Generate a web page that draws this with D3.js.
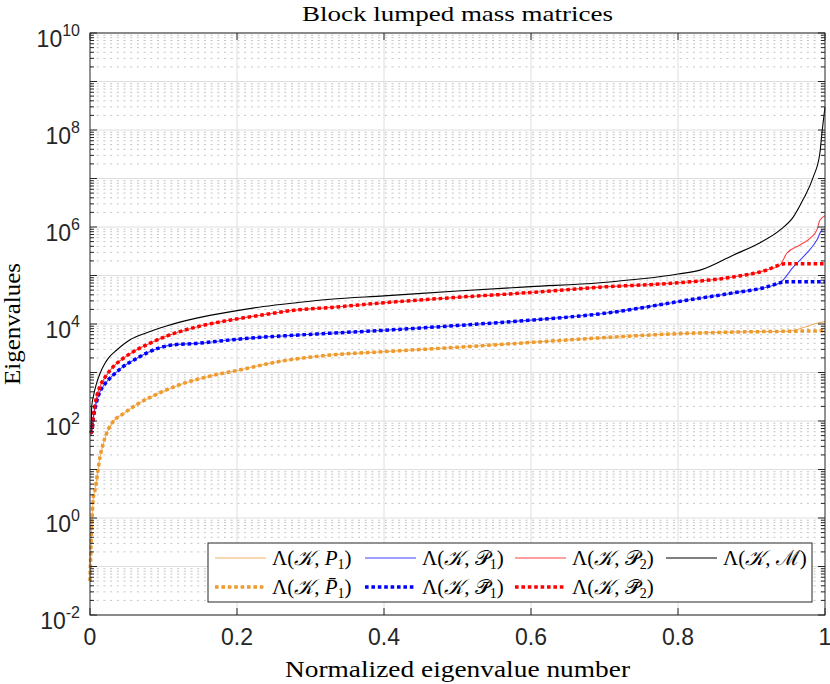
<!DOCTYPE html>
<html>
<head>
<meta charset="UTF-8">
<title>Block lumped mass matrices</title>
<script src="https://d3js.org/d3.v7.min.js"></script>
<style>
  body { margin: 0; background: #fff; }
  .tick-label { font-family: 'Liberation Sans', Arial, sans-serif; fill: #262626; }
  .serif { font-family: 'Liberation Serif', 'DejaVu Serif', serif; fill: #000; }
</style>
</head>
<body>
<svg id="chart" width="830" height="684"></svg>
<script>
// normalized eigenvalue number (x) and eigenvalues (y)
const tP1 = [0, 0.002, 0.0045, 0.0068, 0.0136, 0.0227, 0.0317, 0.045, 0.064, 0.086, 0.122, 0.167, 0.2, 0.259, 0.327, 0.4, 0.5, 0.6, 0.7, 0.8, 0.9, 0.95, 0.96, 0.975, 0.99, 1.0];
const vP1 = [0.05, 0.5, 2.6, 3.8, 18, 56, 98, 140, 220, 330, 560, 870, 1100, 1700, 2290, 2690, 3310, 4170, 5250, 6310, 6920, 7080, 7590, 8910, 10500, 11200];
const tP1bar = [0, 0.002, 0.0045, 0.0068, 0.0136, 0.0227, 0.0317, 0.045, 0.064, 0.086, 0.122, 0.167, 0.2, 0.259, 0.327, 0.4, 0.5, 0.6, 0.7, 0.8, 0.9, 0.95, 1.0];
const vP1bar = [0.05, 0.5, 2.6, 3.8, 18, 56, 98, 140, 220, 330, 560, 870, 1100, 1700, 2290, 2690, 3310, 4170, 5250, 6310, 6920, 7080, 7240];

const tC1 = [0, 0.0023, 0.0045, 0.009, 0.0136, 0.0227, 0.0317, 0.045, 0.0635, 0.077, 0.095, 0.113, 0.145, 0.19, 0.236, 0.281, 0.327, 0.4, 0.5, 0.6, 0.7, 0.812, 0.875, 0.92, 0.939, 0.957, 0.975, 0.989, 0.996, 1.0];
const vC1 = [56, 60, 115, 250, 400, 645, 890, 1320, 1950, 2510, 3240, 3720, 3980, 4680, 5370, 5890, 6460, 7410, 9330, 12000, 16600, 30900, 43700, 57500, 70800, 151000, 288000, 537000, 871000, 891000];
const tC1bar = [0, 0.0023, 0.0045, 0.009, 0.0136, 0.0227, 0.0317, 0.045, 0.0635, 0.077, 0.095, 0.113, 0.145, 0.19, 0.236, 0.281, 0.327, 0.4, 0.5, 0.6, 0.7, 0.812, 0.875, 0.92, 0.939, 0.945, 1.0];
const vC1bar = [56, 60, 115, 250, 400, 645, 890, 1320, 1950, 2510, 3240, 3720, 3980, 4680, 5370, 5890, 6460, 7410, 9330, 12000, 16600, 30900, 43700, 57500, 70800, 74100, 74100];

const tC2 = [0, 0.0023, 0.0045, 0.009, 0.0136, 0.0227, 0.0317, 0.045, 0.059, 0.077, 0.104, 0.145, 0.19, 0.236, 0.281, 0.327, 0.4, 0.5, 0.6, 0.694, 0.8, 0.875, 0.92, 0.939, 0.948, 0.966, 0.98, 0.989, 0.993, 1.0];
const vC2 = [56, 60, 123, 316, 513, 891, 1320, 1950, 2690, 3720, 5620, 8710, 12000, 15500, 19500, 21900, 27500, 35500, 44700, 57500, 70800, 93300, 129000, 166000, 288000, 427000, 589000, 871000, 1380000, 1700000];
const tC2bar = [0, 0.0023, 0.0045, 0.009, 0.0136, 0.0227, 0.0317, 0.045, 0.059, 0.077, 0.104, 0.145, 0.19, 0.236, 0.281, 0.327, 0.4, 0.5, 0.6, 0.694, 0.8, 0.875, 0.92, 0.939, 0.945, 1.0];
const vC2bar = [56, 60, 123, 316, 513, 891, 1320, 1950, 2690, 3720, 5620, 8710, 12000, 15500, 19500, 21900, 27500, 35500, 44700, 57500, 70800, 93300, 129000, 166000, 174000, 174000];

const tM = [0, 0.0014, 0.0023, 0.0045, 0.009, 0.0136, 0.0204, 0.027, 0.036, 0.054, 0.077, 0.104, 0.145, 0.19, 0.236, 0.281, 0.327, 0.4, 0.5, 0.6, 0.694, 0.8, 0.83, 0.875, 0.911, 0.939, 0.957, 0.97, 0.984, 0.993, 0.996, 1.0];
const vM = [60, 65, 195, 316, 603, 955, 1550, 2140, 2880, 4680, 6610, 9120, 13200, 17800, 22900, 27500, 32400, 38000, 47900, 58900, 70800, 107000, 129000, 263000, 468000, 871000, 1620000, 3630000, 10700000, 33100000, 91200000, 295000000];

const xTicks = [0, 0.2, 0.4, 0.6, 0.8, 1];
const xTickLabels = ["0", "0.2", "0.4", "0.6", "0.8", "1"];
const yExponents = [-2, 0, 2, 4, 6, 8, 10];

const orange = "#ED9A2E", blue = "#0000FF", red = "#FF0000";

const svg = d3.select("#chart");
const L = 90, R = 825, T = 33, B = 615;

const x = d3.scaleLinear().domain([0, 1]).range([L, R]);
const y = d3.scaleLog().domain([1e-2, 1e10]).range([B, T]);

// grid
const minor = [];
for (let k = -2; k < 10; k++) for (let m = 2; m <= 9; m++) minor.push(m * Math.pow(10, k));
const major = d3.range(-2, 11).map(k => Math.pow(10, k));

svg.append("g").selectAll("line").data(minor).join("line")
  .attr("x1", L).attr("x2", R)
  .attr("y1", d => y(d)).attr("y2", d => y(d))
  .attr("stroke", "#c4c4c4").attr("stroke-width", 1)
  .attr("stroke-dasharray", "2,4.7");
svg.append("g").selectAll("line").data(major).join("line")
  .attr("x1", L).attr("x2", R)
  .attr("y1", d => y(d)).attr("y2", d => y(d))
  .attr("stroke", "#dedede").attr("stroke-width", 1);
svg.append("g").selectAll("line").data(xTicks.slice(1, -1)).join("line")
  .attr("x1", d => x(d)).attr("x2", d => x(d))
  .attr("y1", T).attr("y2", B)
  .attr("stroke", "#dedede").attr("stroke-width", 1);

// curves
const line = d3.line().x(d => x(d[0])).y(d => y(d[1])).curve(d3.curveMonotoneX);
const zip = (t, v) => t.map((d, i) => [d, v[i]]);

const series = [
  { t: tP1, v: vP1, color: orange, dotted: false, op: 0.75 },
  { t: tC1, v: vC1, color: blue, dotted: false, op: 0.75 },
  { t: tC2, v: vC2, color: red, dotted: false, op: 0.75 },
  { t: tP1bar, v: vP1bar, color: orange, dotted: true },
  { t: tC1bar, v: vC1bar, color: blue, dotted: true },
  { t: tC2bar, v: vC2bar, color: red, dotted: true },
  { t: tM, v: vM, color: "#000", dotted: false, op: 1 }
];

series.forEach(s => {
  svg.append("path")
    .attr("d", line(zip(s.t, s.v)))
    .attr("fill", "none")
    .attr("stroke", s.color)
    .attr("stroke-opacity", s.dotted ? 1 : s.op)
    .attr("stroke-width", s.dotted ? 3.5 : 1.1)
    .attr("stroke-dasharray", s.dotted ? "3.6,2.8" : null);
});

// axes box and ticks
const axisColor = "#262626";
svg.append("rect").attr("x", L).attr("y", T).attr("width", R - L).attr("height", B - T)
  .attr("fill", "none").attr("stroke", axisColor).attr("stroke-width", 1);

const tk = svg.append("g").attr("stroke", axisColor).attr("stroke-width", 1);
xTicks.forEach(d => {
  tk.append("line").attr("x1", x(d)).attr("x2", x(d)).attr("y1", B).attr("y2", B - 7);
  tk.append("line").attr("x1", x(d)).attr("x2", x(d)).attr("y1", T).attr("y2", T + 7);
});
major.forEach(d => {
  tk.append("line").attr("x1", L).attr("x2", L + 7).attr("y1", y(d)).attr("y2", y(d));
  tk.append("line").attr("x1", R).attr("x2", R - 7).attr("y1", y(d)).attr("y2", y(d));
});
minor.forEach(d => {
  tk.append("line").attr("x1", L).attr("x2", L + 4).attr("y1", y(d)).attr("y2", y(d));
  tk.append("line").attr("x1", R).attr("x2", R - 4).attr("y1", y(d)).attr("y2", y(d));
});

// tick labels
xTicks.forEach((d, i) => {
  svg.append("text").attr("class", "tick-label")
    .attr("x", x(d)).attr("y", B + 30)
    .attr("text-anchor", "middle").attr("font-size", 23)
    .text(xTickLabels[i]);
});
yExponents.forEach(e => {
  const t = svg.append("text").attr("class", "tick-label")
    .attr("x", 80).attr("y", y(Math.pow(10, e)) + 14)
    .attr("text-anchor", "end").attr("font-size", 23);
  t.append("tspan").text("10");
  t.append("tspan").attr("font-size", 16).attr("dy", -11).text(String(e));
});

// titles
svg.append("text").attr("class", "serif")
  .attr("x", (L + R) / 2).attr("y", 21).attr("text-anchor", "middle")
  .attr("font-size", 21).attr("textLength", 311).attr("lengthAdjust", "spacingAndGlyphs")
  .text("Block lumped mass matrices");
svg.append("text").attr("class", "serif")
  .attr("x", (L + R) / 2).attr("y", 677).attr("text-anchor", "middle")
  .attr("font-size", 23).attr("textLength", 345).attr("lengthAdjust", "spacingAndGlyphs")
  .text("Normalized eigenvalue number");
svg.append("text").attr("class", "serif")
  .attr("transform", `translate(20, ${(T + B) / 2}) rotate(-90)`)
  .attr("text-anchor", "middle")
  .attr("font-size", 23).attr("textLength", 122).attr("lengthAdjust", "spacingAndGlyphs")
  .text("Eigenvalues");

// legend
const legItems = [
  { sym: "P", bar: false, sub: "1", color: orange, dotted: false, op: 0.75, col: 0, row: 0 },
  { sym: "\u{1D4AB}", bar: false, sub: "1", color: blue, dotted: false, op: 0.75, col: 1, row: 0 },
  { sym: "\u{1D4AB}", bar: false, sub: "2", color: red, dotted: false, op: 0.75, col: 2, row: 0 },
  { sym: "\u2133", bar: false, sub: "", color: "#000", dotted: false, op: 1, col: 3, row: 0 },
  { sym: "P", bar: true, sub: "1", color: orange, dotted: true, col: 0, row: 1 },
  { sym: "\u{1D4AB}", bar: true, sub: "1", color: blue, dotted: true, col: 1, row: 1 },
  { sym: "\u{1D4AB}", bar: true, sub: "2", color: red, dotted: true, col: 2, row: 1 }
];
const colX = [215, 365, 515, 666], rowY = [558, 587];

svg.append("rect").attr("x", 208).attr("y", 543).attr("width", 604).attr("height", 59)
  .attr("fill", "#fff").attr("stroke", axisColor).attr("stroke-width", 1);

legItems.forEach(it => {
  const lx = colX[it.col], ly = rowY[it.row];
  svg.append("line").attr("x1", lx).attr("x2", lx + 51).attr("y1", ly).attr("y2", ly)
    .attr("stroke", it.color)
    .attr("stroke-opacity", it.dotted ? 1 : it.op)
    .attr("stroke-width", it.dotted ? 3.5 : 1.1)
    .attr("stroke-dasharray", it.dotted ? "3.6,2.8" : null);
  const t = svg.append("text").attr("class", "serif")
    .attr("x", lx + 57).attr("y", ly + 7).attr("font-size", 21);
  t.append("tspan").text("\u039B(");
  t.append("tspan").attr("font-style", "italic").text("\u{1D4A6}");
  t.append("tspan").text(", ");
  t.append("tspan").attr("font-style", it.sym === "P" ? "italic" : null)
    .text(it.sym + (it.bar ? "\u0304" : ""));
  if (it.sub) {
    t.append("tspan").attr("font-size", 14).attr("dy", 4).text(it.sub);
    t.append("tspan").attr("dy", -4).text(")");
  } else {
    t.append("tspan").text(")");
  }
});
</script>
</body>
</html>
